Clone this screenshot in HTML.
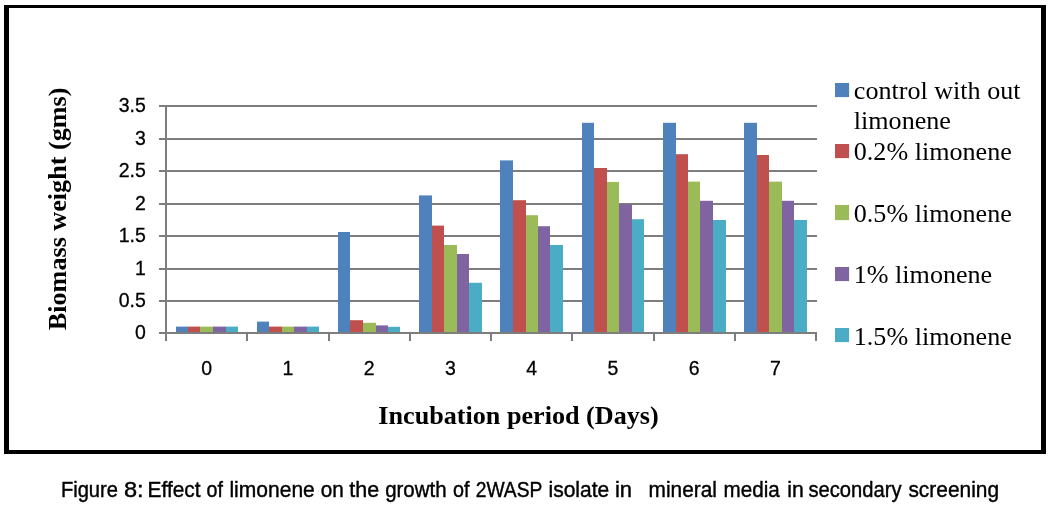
<!DOCTYPE html>
<html lang="en"><head><meta charset="utf-8"><title>Figure 8</title>
<style>
html,body{margin:0;padding:0;background:#fff;}
body{width:1050px;height:510px;overflow:hidden;}
svg{display:block;}
</style></head><body>
<svg width="1050" height="510" viewBox="0 0 1050 510">
<rect x="0" y="0" width="1050" height="510" fill="#fff"/>
<path fill="#000" fill-rule="evenodd" d="M4 5H1046V454H4Z M9 8V450H1041V8Z"/>
<rect x="159" y="105" width="658" height="2" fill="#7d7d7d"/>
<rect x="159" y="138" width="658" height="2" fill="#7d7d7d"/>
<rect x="159" y="170" width="658" height="2" fill="#7d7d7d"/>
<rect x="159" y="203" width="658" height="2" fill="#7d7d7d"/>
<rect x="159" y="235" width="658" height="2" fill="#7d7d7d"/>
<rect x="159" y="268" width="658" height="2" fill="#7d7d7d"/>
<rect x="159" y="300" width="658" height="2" fill="#7d7d7d"/>
<rect x="176" y="326.6" width="12" height="5.9" fill="#4F81BD"/>
<rect x="188" y="326.6" width="12" height="5.9" fill="#C0504D"/>
<rect x="200" y="326.6" width="13" height="5.9" fill="#9BBB59"/>
<rect x="213" y="326.6" width="13" height="5.9" fill="#8064A2"/>
<rect x="226" y="326.6" width="12" height="5.9" fill="#4BACC6"/>
<rect x="257" y="321.6" width="12" height="10.9" fill="#4F81BD"/>
<rect x="269" y="326.6" width="13" height="5.9" fill="#C0504D"/>
<rect x="282" y="326.6" width="12" height="5.9" fill="#9BBB59"/>
<rect x="294" y="326.6" width="13" height="5.9" fill="#8064A2"/>
<rect x="307" y="326.6" width="12" height="5.9" fill="#4BACC6"/>
<rect x="338" y="232.0" width="12" height="100.5" fill="#4F81BD"/>
<rect x="350" y="320.2" width="13" height="12.3" fill="#C0504D"/>
<rect x="363" y="322.8" width="13" height="9.7" fill="#9BBB59"/>
<rect x="376" y="325.4" width="12" height="7.1" fill="#8064A2"/>
<rect x="388" y="326.8" width="12" height="5.7" fill="#4BACC6"/>
<rect x="419" y="195.4" width="13" height="137.1" fill="#4F81BD"/>
<rect x="432" y="225.6" width="12" height="106.9" fill="#C0504D"/>
<rect x="444" y="245.0" width="13" height="87.5" fill="#9BBB59"/>
<rect x="457" y="254.0" width="12" height="78.5" fill="#8064A2"/>
<rect x="469" y="282.8" width="13" height="49.7" fill="#4BACC6"/>
<rect x="500" y="160.4" width="13" height="172.1" fill="#4F81BD"/>
<rect x="513" y="200.2" width="13" height="132.3" fill="#C0504D"/>
<rect x="526" y="215.2" width="12" height="117.3" fill="#9BBB59"/>
<rect x="538" y="226.2" width="12" height="106.3" fill="#8064A2"/>
<rect x="550" y="245.0" width="13" height="87.5" fill="#4BACC6"/>
<rect x="582" y="122.8" width="12" height="209.7" fill="#4F81BD"/>
<rect x="594" y="168.0" width="13" height="164.5" fill="#C0504D"/>
<rect x="607" y="182.0" width="12" height="150.5" fill="#9BBB59"/>
<rect x="619" y="204.4" width="13" height="128.1" fill="#8064A2"/>
<rect x="632" y="219.2" width="12" height="113.3" fill="#4BACC6"/>
<rect x="663" y="122.8" width="13" height="209.7" fill="#4F81BD"/>
<rect x="676" y="154.2" width="12" height="178.3" fill="#C0504D"/>
<rect x="688" y="181.6" width="12" height="150.9" fill="#9BBB59"/>
<rect x="700" y="200.8" width="13" height="131.7" fill="#8064A2"/>
<rect x="713" y="220.0" width="13" height="112.5" fill="#4BACC6"/>
<rect x="744" y="122.8" width="13" height="209.7" fill="#4F81BD"/>
<rect x="757" y="155.0" width="12" height="177.5" fill="#C0504D"/>
<rect x="769" y="181.6" width="13" height="150.9" fill="#9BBB59"/>
<rect x="782" y="200.8" width="12" height="131.7" fill="#8064A2"/>
<rect x="794" y="220.0" width="13" height="112.5" fill="#4BACC6"/>
<rect x="165" y="105" width="2" height="236" fill="#7d7d7d"/>
<rect x="159" y="332" width="658" height="2" fill="#7d7d7d"/>
<rect x="246" y="332" width="2" height="9" fill="#7d7d7d"/>
<rect x="328" y="332" width="2" height="9" fill="#7d7d7d"/>
<rect x="409" y="332" width="2" height="9" fill="#7d7d7d"/>
<rect x="490" y="332" width="2" height="9" fill="#7d7d7d"/>
<rect x="571" y="332" width="2" height="9" fill="#7d7d7d"/>
<rect x="653" y="332" width="2" height="9" fill="#7d7d7d"/>
<rect x="734" y="332" width="2" height="9" fill="#7d7d7d"/>
<rect x="815" y="332" width="2" height="9" fill="#7d7d7d"/>
<g font-family="'Liberation Sans', Arial, sans-serif" font-size="20.3" fill="#000" stroke="#000" stroke-width="0.3">
<text transform="translate(145.8,112.20) scale(0.96,1)" text-anchor="end">3.5</text>
<text transform="translate(145.8,145.20) scale(0.96,1)" text-anchor="end">3</text>
<text transform="translate(145.8,177.20) scale(0.96,1)" text-anchor="end">2.5</text>
<text transform="translate(145.8,210.20) scale(0.96,1)" text-anchor="end">2</text>
<text transform="translate(145.8,242.20) scale(0.96,1)" text-anchor="end">1.5</text>
<text transform="translate(145.8,275.20) scale(0.96,1)" text-anchor="end">1</text>
<text transform="translate(145.8,307.20) scale(0.96,1)" text-anchor="end">0.5</text>
<text transform="translate(145.8,339.20) scale(0.96,1)" text-anchor="end">0</text>
<text transform="translate(206.62,374.7) scale(0.96,1)" text-anchor="middle">0</text>
<text transform="translate(287.88,374.7) scale(0.96,1)" text-anchor="middle">1</text>
<text transform="translate(369.12,374.7) scale(0.96,1)" text-anchor="middle">2</text>
<text transform="translate(450.38,374.7) scale(0.96,1)" text-anchor="middle">3</text>
<text transform="translate(531.62,374.7) scale(0.96,1)" text-anchor="middle">4</text>
<text transform="translate(612.88,374.7) scale(0.96,1)" text-anchor="middle">5</text>
<text transform="translate(694.12,374.7) scale(0.96,1)" text-anchor="middle">6</text>
<text transform="translate(775.38,374.7) scale(0.96,1)" text-anchor="middle">7</text>
</g>
<g font-family="'Liberation Serif', 'Times New Roman', serif" font-size="26.1" fill="#000">
<rect x="835" y="83" width="14.1" height="14.1" fill="#4F81BD"/>
<text x="853.8" y="98.9">control with out</text>
<text x="853.8" y="129.4">limonene</text>
<rect x="835" y="144" width="14.1" height="14.1" fill="#C0504D"/>
<text x="853.8" y="160.4">0.2% limonene</text>
<rect x="835" y="205" width="14.1" height="15.1" fill="#9BBB59"/>
<text x="853.8" y="222.2">0.5% limonene</text>
<rect x="835" y="267" width="14.1" height="14.1" fill="#8064A2"/>
<text x="853.8" y="282.9">1% limonene</text>
<rect x="835" y="328" width="14.1" height="14.1" fill="#4BACC6"/>
<text x="853.8" y="345">1.5% limonene</text>
</g>
<g font-family="'Liberation Serif', 'Times New Roman', serif" font-size="26.15" font-weight="bold" fill="#000">
<text x="518.5" y="423.9" text-anchor="middle">Incubation period (Days)</text>
<text transform="translate(66,208.9) rotate(-90)" text-anchor="middle">Biomass weight (gms)</text>
</g>
<text y="497.3" font-family="'Liberation Sans', Arial, sans-serif" font-size="21.4" fill="#000" stroke="#000" stroke-width="0.4" xml:space="preserve"><tspan x="60.9" textLength="57.1" lengthAdjust="spacingAndGlyphs">Figure</tspan> <tspan x="123.9" textLength="19.7" lengthAdjust="spacingAndGlyphs">8:</tspan> <tspan x="147.6" textLength="53.0" lengthAdjust="spacingAndGlyphs">Effect</tspan> <tspan x="206.6" textLength="16.4" lengthAdjust="spacingAndGlyphs">of</tspan> <tspan x="229.4" textLength="85.4" lengthAdjust="spacingAndGlyphs">limonene</tspan> <tspan x="320.8" textLength="23.0" lengthAdjust="spacingAndGlyphs">on</tspan> <tspan x="349.3" textLength="29.9" lengthAdjust="spacingAndGlyphs">the</tspan> <tspan x="385.2" textLength="61.4" lengthAdjust="spacingAndGlyphs">growth</tspan> <tspan x="452.9" textLength="16.5" lengthAdjust="spacingAndGlyphs">of</tspan> <tspan x="475.7" textLength="66.3" lengthAdjust="spacingAndGlyphs">2WASP</tspan> <tspan x="548.5" textLength="60.7" lengthAdjust="spacingAndGlyphs">isolate</tspan> <tspan x="614.9" textLength="17.1" lengthAdjust="spacingAndGlyphs">in</tspan>   <tspan x="648.6" textLength="68.3" lengthAdjust="spacingAndGlyphs">mineral</tspan> <tspan x="723.6" textLength="56.2" lengthAdjust="spacingAndGlyphs">media</tspan> <tspan x="787.2" textLength="16.5" lengthAdjust="spacingAndGlyphs">in</tspan> <tspan x="808.4" textLength="93.1" lengthAdjust="spacingAndGlyphs">secondary</tspan> <tspan x="908.4" textLength="90.7" lengthAdjust="spacingAndGlyphs">screening</tspan></text>
</svg>
</body></html>
